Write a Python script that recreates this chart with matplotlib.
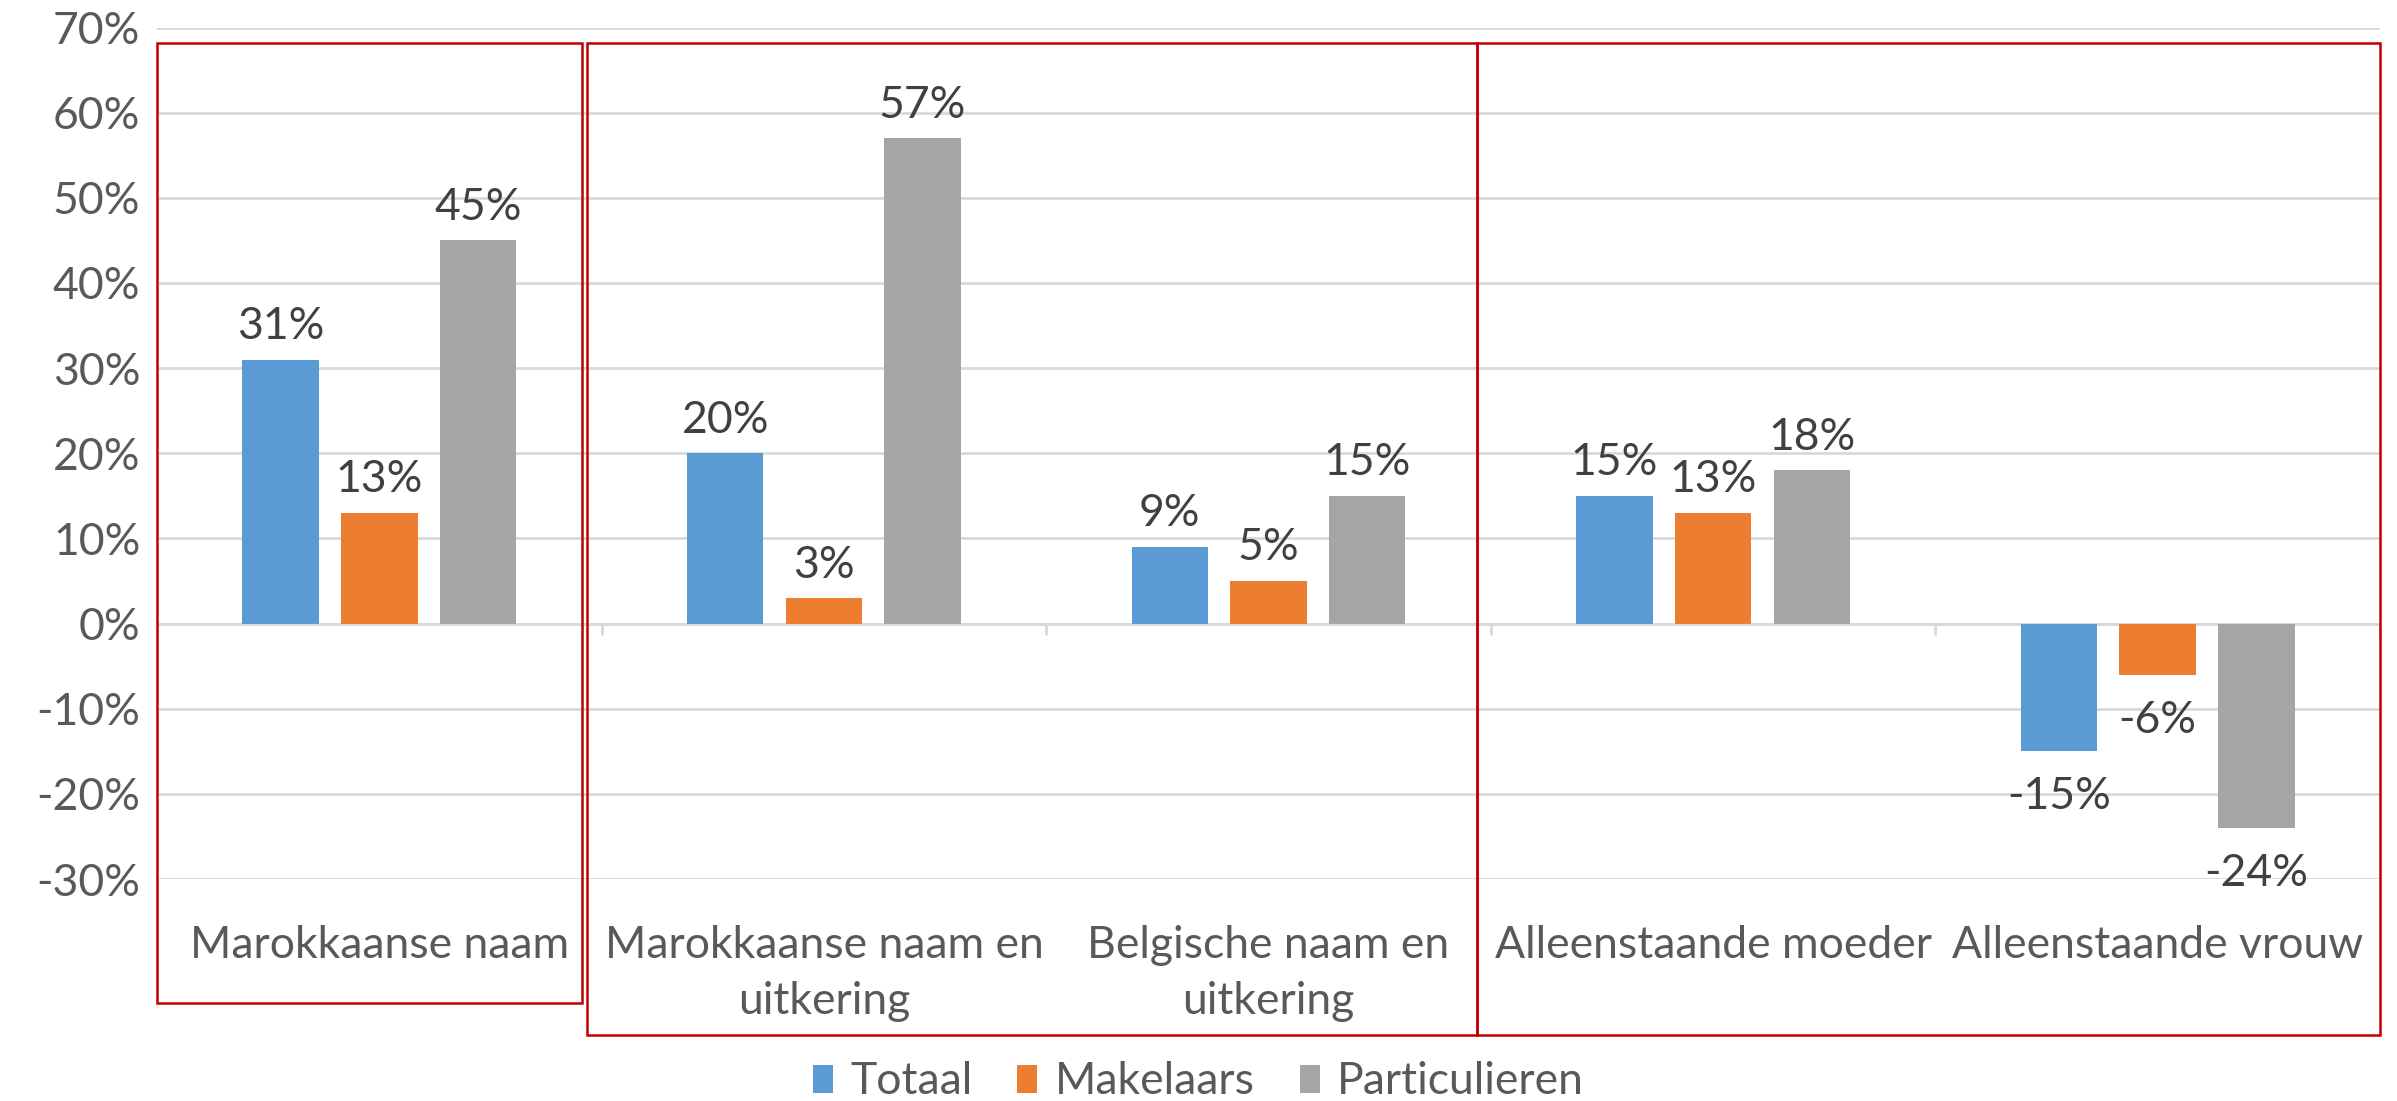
import matplotlib
matplotlib.use("Agg")
import matplotlib.pyplot as plt
from matplotlib.patches import Rectangle, Patch
import numpy as np

categories = ["Marokkaanse naam", "Marokkaanse naam en\nuitkering", "Belgische naam en\nuitkering",
              "Alleenstaande moeder", "Alleenstaande vrouw"]
series_names = ["Totaal", "Makelaars", "Particulieren"]
totaal = [31, 20, 9, 15, -15]
makelaars = [13, 3, 5, 13, -6]
particulieren = [45, 57, 15, 18, -24]
yticks = [-30, -20, -10, 0, 10, 20, 30, 40, 50, 60, 70]

colors = ["#5B9BD5", "#ED7D31", "#A5A5A5"]
plt.rcParams['font.family'] = ['Lato', 'DejaVu Sans']
FS = 32

W, H = 2397, 1101
fig = plt.figure(figsize=(W / 100, H / 100), dpi=100)
left, right = 157 / W, 2380 / W
top, bottom = 27.5 / H, 879 / H
ax = fig.add_axes([left, 1 - bottom, right - left, bottom - top])

x = np.arange(len(categories))
bw = 0.172
offs = [-0.222, 0, 0.222]
for vals, off, c, name in zip([totaal, makelaars, particulieren], offs, colors, series_names):
    bars = ax.bar(x + off, vals, width=bw, color=c, label=name, zorder=3)
    ax.bar_label(bars, labels=[f"{v}%" if v >= 0 else "" for v in vals], padding=9,
                 fontsize=FS, color="#404040")
    ax.bar_label(bars, labels=[f"{v}%" if v < 0 else "" for v in vals], padding=18,
                 fontsize=FS, color="#404040")

ax.set_xlim(-0.5, len(categories) - 0.5)
ax.set_ylim(-30, 70)
ax.set_yticks(yticks)
ax.set_yticklabels([f"{v}%" for v in yticks], fontsize=FS, color="#595959")
ax.grid(axis="y", color="#D9D9D9", lw=2, zorder=0)
ax.axhline(0, color="#D9D9D9", lw=2, zorder=1)
for s in ax.spines.values():
    s.set_visible(False)
ax.tick_params(axis="y", length=0, pad=12)
ax.set_xticks(x)
ax.set_xticklabels(categories, fontsize=FS, color="#595959", linespacing=1.45)
ax.tick_params(axis="x", length=0, pad=33)
# category boundary tick marks on zero line
bounds = np.arange(-0.5, len(categories) + 0.5, 1)
ax.vlines(bounds, -1.4, 0, color="#D9D9D9", lw=2, zorder=1)

# red boxes (figure pixel coordinates)
boxes = [(157, 43, 582, 1003), (587, 43, 1477, 1035), (1477, 43, 2380, 1035)]
for (x0, y0, x1, y1) in boxes:
    fig.add_artist(Rectangle((x0 / W, 1 - y1 / H), (x1 - x0) / W, (y1 - y0) / H,
                             transform=fig.transFigure, fill=False, edgecolor="#C00000", lw=1.8))

handles = [Patch(facecolor=c, label=n) for c, n in zip(colors, series_names)]
fig.legend(handles=handles, loc="center", bbox_to_anchor=(0.5, 1 - 1082 / H), ncol=3, frameon=False,
           fontsize=FS, handlelength=0.45, handleheight=0.6, handletextpad=0.4, columnspacing=1.0,
           labelcolor="#595959")

fig.savefig("out.png", dpi=100)
